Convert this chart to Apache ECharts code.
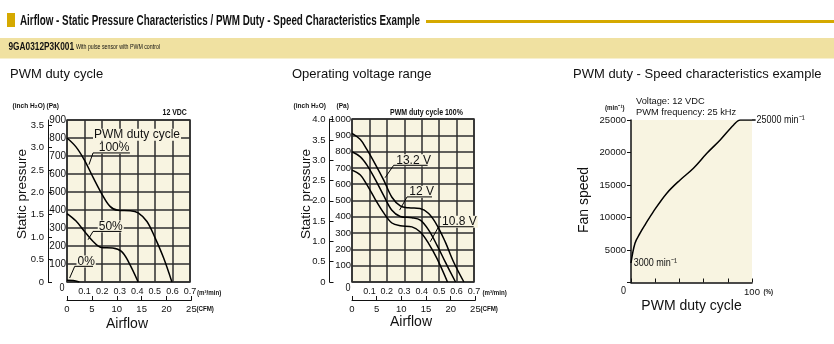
<!DOCTYPE html>
<html><head><meta charset="utf-8">
<script src="https://cdn.jsdelivr.net/npm/echarts@6/dist/echarts.min.js"></script>
<style>html,body{margin:0;padding:0;background:#fff}#c{width:834px;height:344px}</style>
</head><body><div id="c"></div>
<script>
// ---------- data ----------
// Chart 1: PWM duty cycle, airflow (m3/min) vs static pressure (Pa)
const duty100 = [[0,800],[0.05,752],[0.1,676],[0.15,578],[0.2,486],[0.245,420],[0.29,398],[0.36,396],[0.405,384],[0.455,336],[0.5,248],[0.55,133],[0.597,0]];
const duty50  = [[0,380],[0.05,340],[0.1,281],[0.15,224],[0.195,192],[0.26,189],[0.31,170],[0.35,112],[0.405,0]];
const duty0   = [[0,10],[0.035,8],[0.07,0]];
// Chart 2: operating voltage range
const volt132 = [[0,912],[0.048,874],[0.086,812],[0.134,722],[0.182,625],[0.229,520],[0.277,467],[0.325,455],[0.39,451],[0.44,420],[0.488,348],[0.535,246],[0.583,123],[0.642,0]];
const volt12  = [[0,799],[0.048,768],[0.086,717],[0.134,628],[0.182,530],[0.229,440],[0.277,402],[0.344,394],[0.392,379],[0.44,318],[0.488,225],[0.535,123],[0.594,0]];
const volt108 = [[0,686],[0.048,656],[0.086,596],[0.134,506],[0.182,424],[0.229,362],[0.277,345],[0.344,338],[0.392,307],[0.44,236],[0.488,143],[0.548,0]];
// Chart 3: PWM duty (%) vs fan speed (min-1)
const pwmSpeed = [[0,3000],[3.3,6050],[7.5,7590],[11.6,8870],[18.5,10910],[29.6,13740],[40.6,15780],[51.6,17580],[62.7,19880],[73.7,21930],[84.8,24230],[90.3,25000],[100,25000]];
// Tick values
const inchTicks1 = [0,0.5,1,1.5,2,2.5,3,3.5];
const inchTicks2 = [0,0.5,1,1.5,2,2.5,3,3.5,4];
const PA_PER_INCH = 249.0889;
const M3_PER_CFM = 0.0283168;

// ---------- styles ----------
const BG = '#f8f4e1';
const INK = '#111';
const GRID = '#2e2e2e';
const GOLD = '#d5a900';
const BAND = '#f0e1a1';
const SANS = '"Liberation Sans",Arial,Helvetica,sans-serif';
const NX = 0.82; // horizontal squeeze for the condensed lettering

const chart = echarts.init(document.getElementById('c'), null, {renderer:'canvas'});

const lbl = (size, extra) => Object.assign({fontFamily: SANS, fontSize: size, color: INK}, extra || {});
const fmtInch = v => v === 0 ? '0' : v.toFixed(1);
const curve = (data, xi, yi) => ({type:'line', xAxisIndex:xi, yAxisIndex:yi, data, symbol:'none', smooth:0.35,
  lineStyle:{color:'#000', width:1.5}, silent:true, animation:false, z:5});

const airX = (gi) => ({gridIndex:gi, type:'value', min:0, max:0.7, interval:0.1,
  axisLine:{show:false}, axisTick:{show:false},
  axisLabel: lbl(9, {margin:5, formatter: v => v === 0 ? '' : v.toFixed(1)}),
  splitLine:{show:true, lineStyle:{color:GRID, width:1.5}}});
const cfmX = (gi) => ({gridIndex:gi, type:'value', min:0, max:25, interval:5,
  axisLine:{show:true, onZero:false, lineStyle:{color:INK, width:1}},
  axisTick:{show:true, inside:true, length:4, lineStyle:{color:INK}},
  axisLabel: lbl(9.5, {margin:4}), splitLine:{show:false}});
const paY = (gi, max, size) => ({gridIndex:gi, type:'value', min:0, max, interval:100,
  axisLine:{show:false}, axisTick:{show:false},
  axisLabel: lbl(size, {margin:1, formatter: v => v === 0 ? '' : String(v)}),
  splitLine:{show:true, lineStyle:{color:GRID, width:1.5}}});
const inchY = (gi, maxPa, ticks, off) => ({gridIndex:gi, type:'value', position:'left', offset:off, min:0, max:maxPa/PA_PER_INCH,
  axisLine:{show:true, onZero:false, lineStyle:{color:INK, width:1}},
  axisTick:{show:true, inside:true, length:4, customValues:ticks, lineStyle:{color:INK}},
  axisLabel: lbl(9.5, {margin:4, customValues:ticks, formatter: fmtInch}),
  splitLine:{show:false}});

const option = {
  animation:false,
  grid:[
    {left:67, top:120, width:123, height:162, show:true, backgroundColor:BG, borderColor:GRID, borderWidth:1.5},
    {left:67, top:299, width:123*(25*M3_PER_CFM/0.7), height:1, show:false},
    {left:352, top:119, width:122, height:163, show:true, backgroundColor:BG, borderColor:GRID, borderWidth:1.5},
    {left:352, top:299, width:122*(25*M3_PER_CFM/0.7), height:1, show:false},
    {left:631, top:120, width:121, height:162.5, show:true, backgroundColor:BG, borderWidth:0}
  ],
  xAxis:[
    airX(0), cfmX(1), airX(2), cfmX(3),
    {gridIndex:4, type:'value', min:0, max:100, interval:20,
      axisLine:{show:true, onZero:false, lineStyle:{color:INK, width:1.5}},
      axisTick:{show:true, inside:true, length:4, lineStyle:{color:INK, width:1}},
      axisLabel: lbl(9.5, {margin:5, formatter: v => v === 100 ? '100' : ''}),
      splitLine:{show:false}}
  ],
  yAxis:[
    paY(0, 900, 10), inchY(0, 900, inchTicks1, 19),
    paY(2, 1000, 9.5), inchY(2, 1000, inchTicks2, 22.5),
    {gridIndex:4, type:'value', min:0, max:25000, interval:5000,
      axisLine:{show:true, onZero:false, lineStyle:{color:INK, width:1.5}},
      axisTick:{show:true, length:4, lineStyle:{color:INK, width:1}},
      axisLabel: lbl(9.5, {margin:5, formatter: v => v === 0 ? '' : String(v)}),
      splitLine:{show:false}},
    {gridIndex:1, show:false, min:0, max:1},
    {gridIndex:3, show:false, min:0, max:1}
  ],
  series:[
    curve(duty100,0,0), curve(duty50,0,0), curve(duty0,0,0),
    curve(volt132,2,2), curve(volt12,2,2), curve(volt108,2,2),
    curve(pwmSpeed,4,4)
  ]
};
chart.setOption(option);

// ---------- annotations / texts ----------
function measure(font, text){ const c=document.createElement('canvas').getContext('2d'); c.font=font; return c.measureText(text).width; }
const G = [];
function txt(text, x, y, font, opt){
  opt = opt || {};
  G.push(Object.assign({type:'text', x, y, z:20, scaleX: opt.sx || 1,
    style:Object.assign({text, font, fill:INK, align:'left', verticalAlign:'middle'}, opt.style||{})}, opt.el||{}));
}
const ntxt = (text, x, y, font, opt) => txt(text, x, y, font, Object.assign({sx:NX}, opt||{}));
function fitTxt(text, x, y, font, width){ const w = measure(font, text); G.push({type:'text', x, y, z:20, scaleX: width/w, style:{text, font, fill:INK, align:'left', verticalAlign:'middle'}}); }

// header
G.push({type:'rect', shape:{x:7,y:13,width:8,height:14}, style:{fill:GOLD}, z:1});
fitTxt('Airflow - Static Pressure Characteristics / PWM Duty - Speed Characteristics Example', 20, 20.5, 'bold 15.5px '+SANS, 400);
G.push({type:'rect', shape:{x:426,y:20,width:408,height:3}, style:{fill:GOLD}, z:1});
G.push({type:'rect', shape:{x:0,y:38,width:834,height:20.5}, style:{fill:BAND}, z:1});
fitTxt('9GA0312P3K001', 8.5, 46.5, 'bold 11px '+SANS, 65.5);
fitTxt('With pulse sensor with PWM control', 76, 47, '7px '+SANS, 84);

// sub titles
txt('PWM duty cycle', 10, 74, '13px '+SANS);
txt('Operating voltage range', 292, 74, '13px '+SANS);
txt('PWM duty - Speed characteristics example', 573, 74, '13px '+SANS);

// chart 1 small texts
ntxt('(inch H\u2082O)', 12.5, 106, 'bold 8px '+SANS);
ntxt('(Pa)', 46.5, 106, 'bold 8px '+SANS);
ntxt('12 VDC', 162.5, 113, 'bold 8.5px '+SANS);
ntxt('0', 62, 288, '11px '+SANS, {style:{align:'center'}});
ntxt('(m\u00B3/min)', 197, 292.5, 'bold 7.5px '+SANS);
ntxt('(CFM)', 196.5, 309, 'bold 7.5px '+SANS);
txt('Airflow', 127, 324, '14px '+SANS, {style:{align:'center'}});
txt('Static pressure', 22, 194, '13.5px '+SANS, {style:{align:'center'}, el:{rotation:Math.PI/2}});

// chart 2 small texts
ntxt('(inch H\u2082O)', 293.5, 106, 'bold 8px '+SANS);
ntxt('(Pa)', 336.5, 106, 'bold 8px '+SANS);
ntxt('PWM duty cycle 100%', 390, 112.5, 'bold 8.5px '+SANS);
ntxt('0', 348, 288, '11px '+SANS, {style:{align:'center'}});
ntxt('(m\u00B3/min)', 482.5, 292.5, 'bold 7.5px '+SANS);
ntxt('(CFM)', 480.5, 309, 'bold 7.5px '+SANS);
txt('Airflow', 411, 322.5, '14px '+SANS, {style:{align:'center'}});
txt('Static pressure', 306.5, 194, '13.5px '+SANS, {style:{align:'center'}, el:{rotation:Math.PI/2}});

// chart 3 small texts
ntxt('(min\u207B\u00B9)', 605, 108, 'bold 7.5px '+SANS);
txt('Voltage: 12 VDC', 636, 101.5, '9.3px '+SANS);
txt('PWM frequency: 25 kHz', 636, 112, '9.3px '+SANS);
ntxt('0', 623.5, 291, '11px '+SANS, {style:{align:'center'}});
ntxt('(%)', 763.5, 292, 'bold 7.5px '+SANS);
txt('PWM duty cycle', 691.5, 306, '14px '+SANS, {style:{align:'center'}});
txt('Fan speed', 584, 200, '14px '+SANS, {style:{align:'center'}, el:{rotation:Math.PI/2}});

// leader-line annotations in data coordinates
const ANN = [
  {s:0, text:'PWM duty cycle', at:[0.148,818]},
  {s:0, text:'100%', at:[0.175,746], leader:[[0.125,652],[0.148,717],[0.358,717]]},
  {s:0, text:'50%',  at:[0.175,309], leader:[[0.12,235],[0.148,281],[0.31,281]]},
  {s:0, text:'0%',   at:[0.054,114], leader:[[0.015,22],[0.044,87],[0.148,87]]},
  {s:3, text:'13.2 V', at:[0.248,747], leader:[[0.19,640],[0.239,716],[0.434,716]]},
  {s:3, text:'12 V',   at:[0.323,553], leader:[[0.273,441],[0.316,522],[0.459,522]]},
  {s:3, text:'10.8 V', at:[0.511,369], leader:[[0.449,247],[0.497,339],[0.698,339]]},
  {s:6, text:'3000 min\u207B\u00B9', at:[1.5,3000], font:'11px '+SANS, bg:false, sx:NX},
  {s:6, text:'25000 min\u207B\u00B9', at:[103,25000], font:'11px '+SANS, bg:false, sx:NX, leader:[[100,25000],[103,25000]]}
];
ANN.forEach(a => {
  const p = chart.convertToPixel({seriesIndex:a.s}, a.at);
  G.push({type:'text', x:p[0], y:p[1], z:20, scaleX:a.sx || 1, style:{text:a.text, font:a.font || ('12px '+SANS), fill:INK, align:'left', verticalAlign:'middle',
    backgroundColor: a.bg === false ? 'transparent' : BG, padding:[0,1]}});
  if (a.leader) {
    const pts = a.leader.map(q => chart.convertToPixel({seriesIndex:a.s}, q));
    G.push({type:'polyline', z:21, shape:{points:pts}, style:{stroke:'#000', lineWidth: a.s===6 ? 1.5 : 1, fill:null}});
  }
});
chart.setOption({graphic:{elements:G}});
</script></body></html>
